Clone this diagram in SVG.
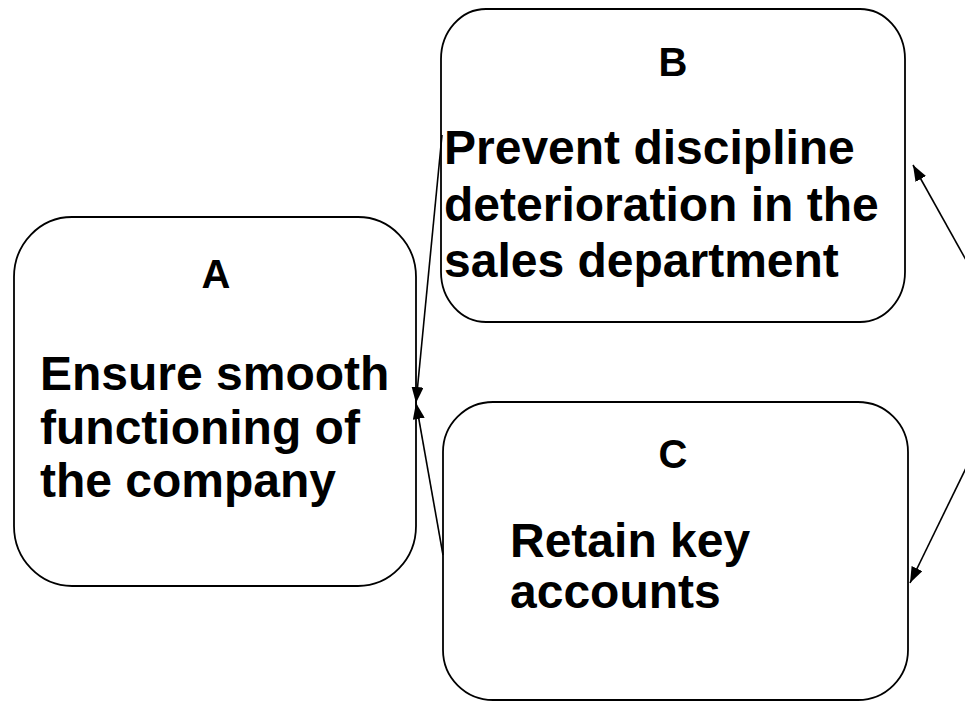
<svg xmlns="http://www.w3.org/2000/svg" width="965" height="709" viewBox="0 0 965 709">
<defs>
<style>
.box{fill:#fff;stroke:#000;stroke-width:1.8}
.lbl{font-family:"Liberation Sans",Arial,sans-serif;font-weight:bold;font-size:40px;text-anchor:middle;fill:#000}
.txt{font-family:"Liberation Sans",Arial,sans-serif;font-weight:bold;font-size:48px;fill:#000}
.con{stroke:#000;stroke-width:1.6;fill:none;marker-end:url(#ah)}
</style>
<marker id="ah" markerUnits="userSpaceOnUse" markerWidth="16" markerHeight="12" refX="16" refY="6" orient="auto">
<path d="M0,0 L16,6 L0,12 z" fill="#000"/>
</marker>
</defs>
<rect width="965" height="709" fill="#fff"/>
<g id="nodeA">
<rect class="box" x="14" y="217" width="402" height="369" rx="58" ry="60"/>
<text class="lbl" x="216" y="288">A</text>
<text class="txt" x="40" y="390">Ensure smooth</text>
<text class="txt" x="40" y="444">functioning of</text>
<text class="txt" x="40" y="497">the company</text>
</g>
<g id="nodeB">
<rect class="box" x="441" y="9" width="464" height="313" rx="45" ry="50"/>
<text class="lbl" x="673" y="76">B</text>
<text class="txt" x="444" y="164">Prevent discipline</text>
<text class="txt" x="444" y="221">deterioration in the</text>
<text class="txt" x="444" y="277">sales department</text>
</g>
<g id="nodeC">
<rect class="box" x="443" y="402" width="465" height="298" rx="50" ry="50"/>
<text class="lbl" x="673" y="468">C</text>
<text class="txt" x="510" y="557">Retain key</text>
<text class="txt" x="510" y="608">accounts</text>
</g>
<g id="connectors">
<line class="con" x1="442" y1="135" x2="416" y2="403"/>
<line class="con" x1="443" y1="555" x2="416" y2="403"/>
<line class="con" x1="966" y1="260" x2="913" y2="165"/>
<line class="con" x1="966" y1="468" x2="910" y2="583"/>
</g>
</svg>
